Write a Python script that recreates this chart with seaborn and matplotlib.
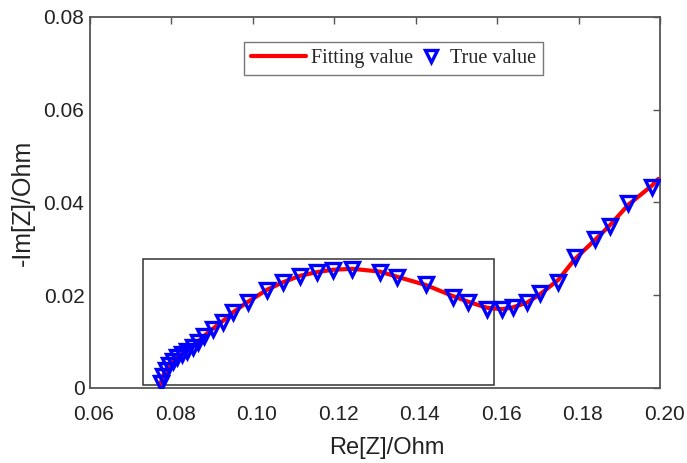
import matplotlib
matplotlib.use("Agg")
import matplotlib.pyplot as plt
import matplotlib.transforms as mtransforms
from matplotlib.legend_handler import HandlerLine2D
import seaborn as sns
import pandas as pd
from matplotlib.patches import Rectangle

# ---- data ----
true_re = [0.0774, 0.0779, 0.0787, 0.0794, 0.0804, 0.0814, 0.0826, 0.0838, 0.0853,
           0.0865, 0.0880, 0.0902, 0.0927, 0.0951, 0.0988, 0.1035, 0.1074, 0.1116,
           0.1158, 0.1197, 0.1244, 0.1312, 0.1354, 0.1425, 0.1492, 0.1529, 0.1575,
           0.1612, 0.1639, 0.1673, 0.1705, 0.1750, 0.1791, 0.1841, 0.1877, 0.1922,
           0.1981]
true_im = [0.0011, 0.0026, 0.0039, 0.0050, 0.0058, 0.0067, 0.0073, 0.0080, 0.0088,
           0.0099, 0.0112, 0.0127, 0.0142, 0.0164, 0.0185, 0.0211, 0.0229, 0.0242,
           0.0250, 0.0254, 0.0257, 0.0250, 0.0239, 0.0224, 0.0196, 0.0185, 0.0170,
           0.0170, 0.0175, 0.0185, 0.0205, 0.0229, 0.0283, 0.0321, 0.0349, 0.0399,
           0.0433]

fit_re = [0.0771, 0.0774, 0.0779, 0.0787, 0.0794, 0.0804, 0.0814, 0.0826, 0.0838,
          0.0853, 0.0865, 0.0880, 0.0902, 0.0927, 0.0951, 0.0988, 0.1035, 0.1074,
          0.1116, 0.1158, 0.1197, 0.1244, 0.1312, 0.1354, 0.1425, 0.1492, 0.1529,
          0.1575, 0.1612, 0.1639, 0.1673, 0.1705, 0.1750, 0.1791, 0.1841, 0.1877,
          0.1922, 0.1981, 0.1996]
fit_im = [0.0000, 0.0011, 0.0026, 0.0039, 0.0050, 0.0059, 0.0067, 0.0074, 0.0081,
          0.0090, 0.0100, 0.0112, 0.0128, 0.0145, 0.0163, 0.0186, 0.0212, 0.0228,
          0.0242, 0.0250, 0.0255, 0.0257, 0.0251, 0.0240, 0.0222, 0.0198, 0.0186,
          0.0173, 0.0170, 0.0174, 0.0184, 0.0202, 0.0233, 0.0278, 0.0320, 0.0351,
          0.0395, 0.0437, 0.0451]

x_ticks = [0.06, 0.08, 0.10, 0.12, 0.14, 0.16, 0.18, 0.20]
x_ticklabels = ["0.06", "0.08", "0.10", "0.12", "0.14", "0.16", "0.18", "0.20"]
y_ticks = [0, 0.02, 0.04, 0.06, 0.08]
y_ticklabels = ["0", "0.02", "0.04", "0.06", "0.08"]

box_re = [0.0730, 0.1592]
box_im = [0.0007, 0.0278]

fit_df = pd.DataFrame({"re": fit_re, "im": fit_im})
true_df = pd.DataFrame({"re": true_re, "im": true_im})

sns.set_style("white")
plt.rcParams["font.family"] = ["Liberation Sans", "DejaVu Sans"]

fig = plt.figure(figsize=(6.87, 4.63), dpi=100)
ax = fig.add_axes([0.131, 0.162, 0.8297, 0.8013])

sns.lineplot(data=fit_df, x="re", y="im", sort=False, estimator=None, ax=ax,
             color="#ff0000", linewidth=3.0, label="Fitting value", zorder=2)
sns.lineplot(data=true_df, x="re", y="im", sort=False, estimator=None, ax=ax,
             linestyle="none", marker="v", markersize=10, markerfacecolor="none",
             markeredgecolor="#0000ff", markeredgewidth=2.4, color="#0000ff",
             label="True value", zorder=3)

ax.add_patch(Rectangle((box_re[0], box_im[0]), box_re[1] - box_re[0],
                       box_im[1] - box_im[0], fill=False, edgecolor="#333333",
                       linewidth=1.1, zorder=1))

ax.set_xlim(0.06, 0.20)
ax.set_ylim(0, 0.08)
ax.set_xticks(x_ticks)
ax.set_xticklabels(x_ticklabels)
ax.set_yticks(y_ticks)
ax.set_yticklabels(y_ticklabels)
ax.tick_params(direction="in", length=5, width=1.0, color="#555555",
               top=True, right=True, labelsize=15, labelcolor="#222222")
ax.tick_params(axis="x", pad=12.5)
ax.tick_params(axis="y", pad=4)
for s in ax.spines.values():
    s.set_color("#555555")
    s.set_linewidth(1.3)
    s.set_visible(True)

shift = mtransforms.ScaledTranslation(4 / 100, 0, fig.dpi_scale_trans)
for lab in ax.get_xticklabels():
    lab.set_transform(lab.get_transform() + shift)

ax.set_xlabel("Re[Z]/Ohm", fontsize=17, color="#222222", labelpad=9, x=0.52)
ax.set_ylabel("-Im[Z]/Ohm", fontsize=18, color="#222222", labelpad=6)


class RightMarkerHandler(HandlerLine2D):
    """Place the single legend marker near the right end of the handle."""
    def get_xdata(self, legend, xdescent, ydescent, width, height, fontsize):
        xm = -xdescent + width - 10
        return [xm - 1, xm + 1], [xm]


handles, labels = ax.get_legend_handles_labels()
leg = ax.legend(handles, labels, loc="center", bbox_to_anchor=(0.533, 0.888), ncol=2,
                prop={"family": ["Liberation Serif"], "size": 14.5},
                frameon=True, fancybox=False, edgecolor="#555555",
                handlelength=2.7, handletextpad=0.25, columnspacing=-1.1,
                borderpad=0.35, numpoints=1,
                handler_map={handles[1]: RightMarkerHandler()})
leg.get_frame().set_linewidth(1.0)
for h in leg.legend_handles:
    if h.get_marker() == "v":
        h.set_markersize(9)
        h.set_markerfacecolor("none")

fig.savefig("out.png", dpi=100)
